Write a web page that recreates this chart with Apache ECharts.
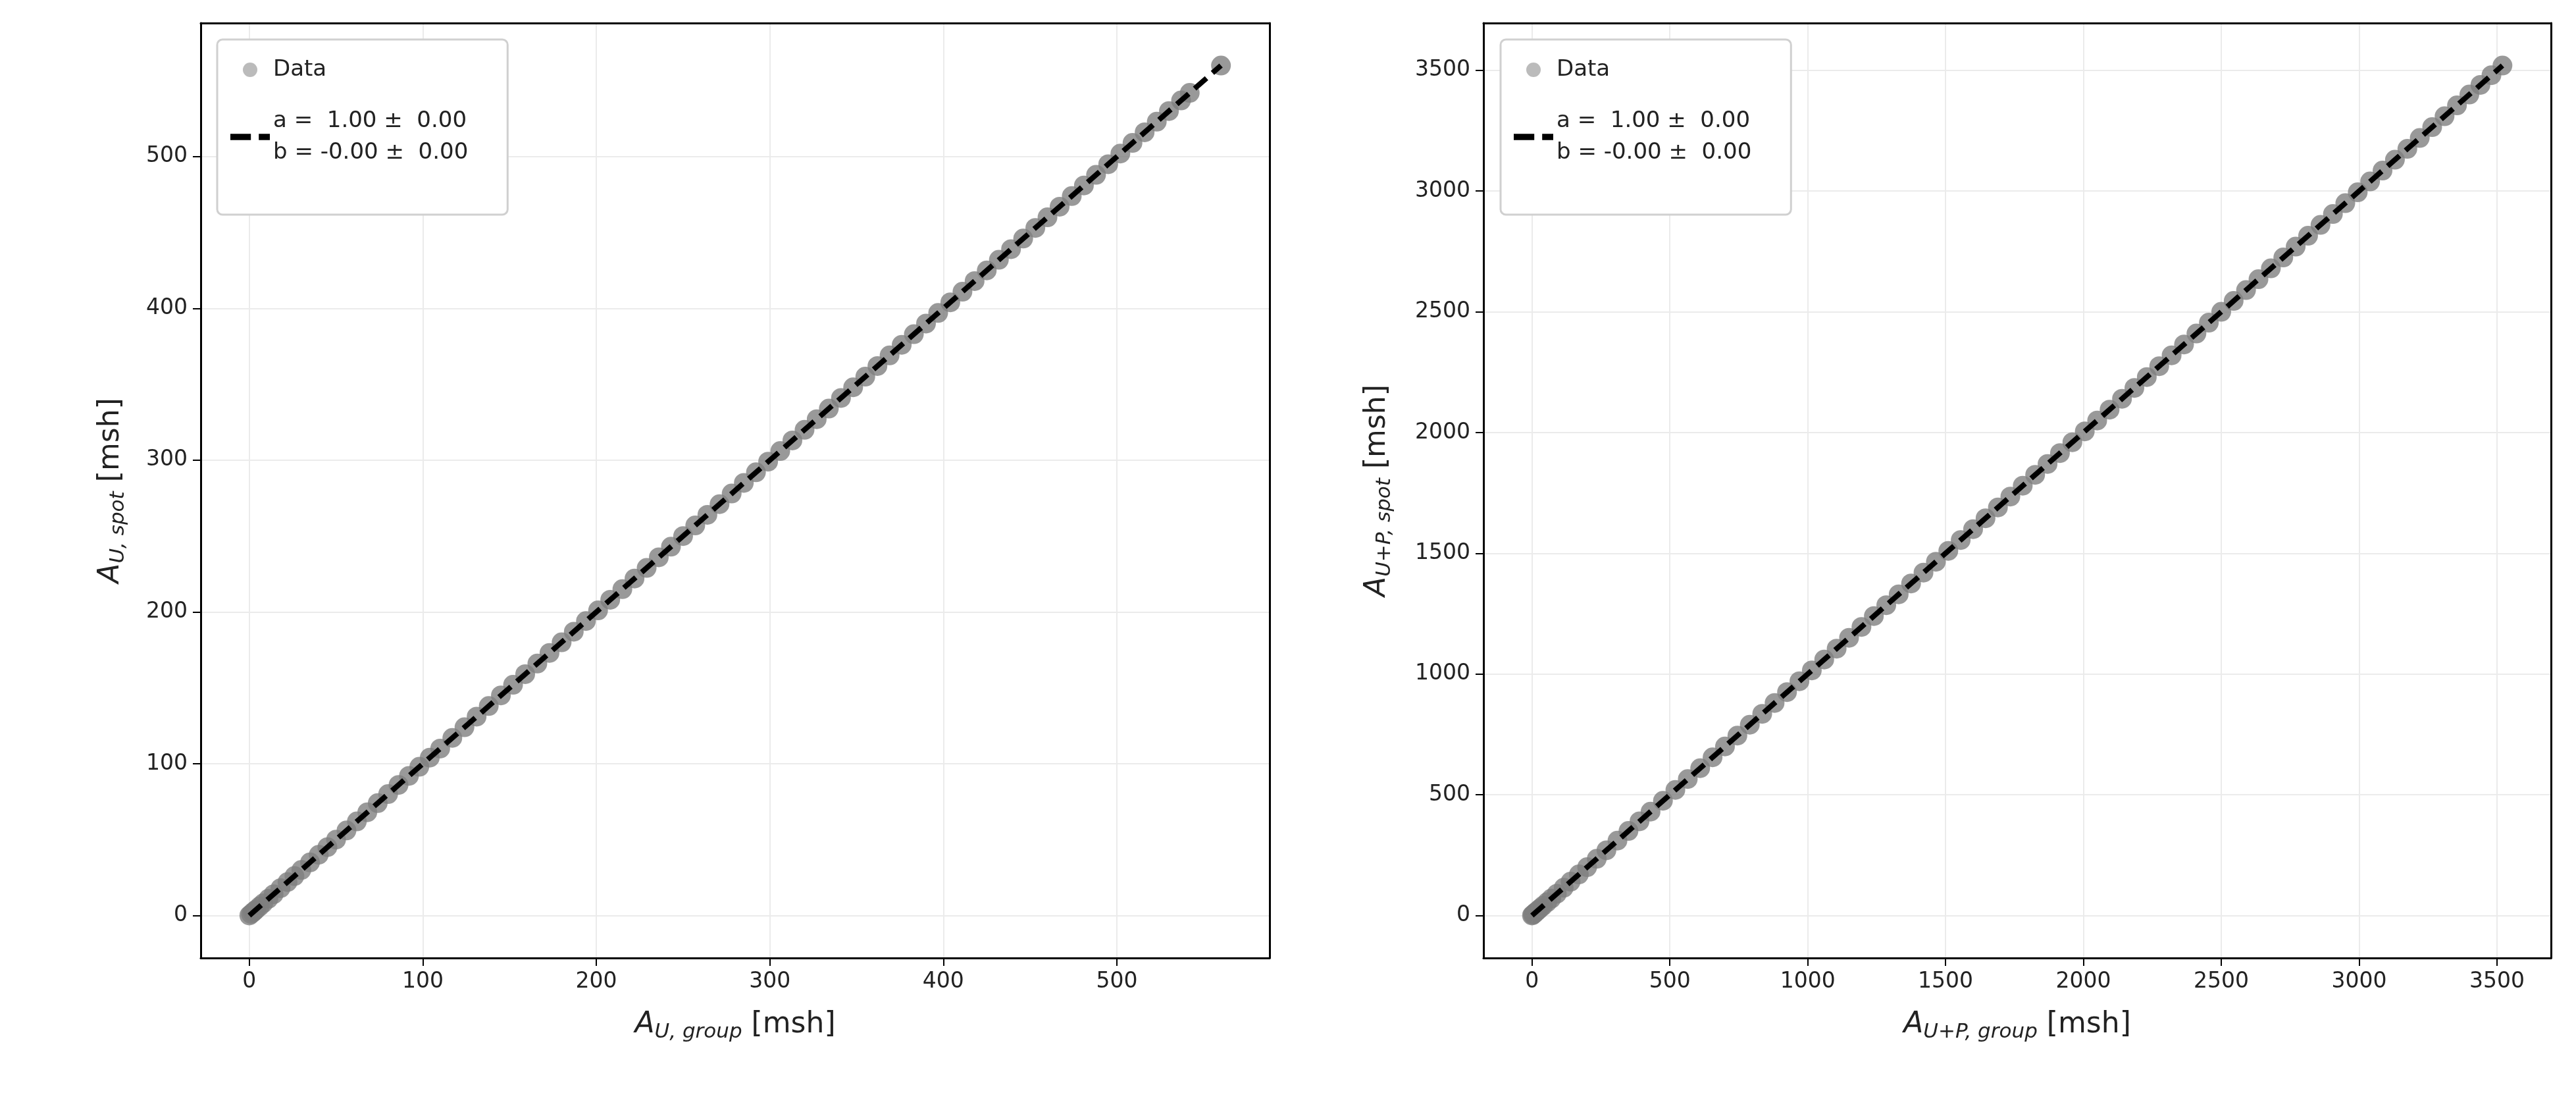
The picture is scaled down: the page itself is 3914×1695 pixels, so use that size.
<!DOCTYPE html>
<html><head><meta charset="utf-8">
<script src="https://cdn.jsdelivr.net/npm/echarts@6/dist/echarts.min.js"></script>
<style>html,body{margin:0;background:#fff}#main{width:3914px;height:1695px}</style>
</head><body><div id="main"></div>
<script>
var chart = echarts.init(document.getElementById('main'));

// values (spot vs group, both along the 1:1 line)
var groupU = [0, 1, 2, 3, 4, 6, 8, 11, 14, 18, 22, 26, 30, 35, 40, 45, 50, 56, 62, 68, 74, 80, 86, 92, 98, 104, 110, 117, 124, 131, 138, 145, 152, 159, 166, 173, 180, 187, 194, 201, 208, 215, 222, 229, 236, 243, 250, 257, 264, 271, 278, 285, 292, 299, 306, 313, 320, 327, 334, 341, 348, 355, 362, 369, 376, 383, 390, 397, 404, 411, 418, 425, 432, 439, 446, 453, 460, 467, 474, 481, 488, 495, 502, 509, 516, 523, 530, 537, 542, 560];
var spotU = groupU.slice();
var groupUP = [0, 3, 6, 10, 15, 22, 30, 40, 55, 70, 90, 115, 140, 170, 200, 235, 270, 310, 350, 390, 430, 475, 520, 565, 610, 655, 700, 745, 790, 835, 880, 925, 970, 1015, 1060, 1105, 1150, 1195, 1240, 1285, 1330, 1375, 1420, 1465, 1510, 1555, 1600, 1645, 1690, 1735, 1780, 1825, 1870, 1915, 1960, 2005, 2050, 2095, 2140, 2185, 2230, 2275, 2320, 2365, 2410, 2455, 2500, 2545, 2590, 2635, 2680, 2725, 2770, 2815, 2860, 2905, 2950, 2995, 3040, 3085, 3130, 3175, 3220, 3265, 3310, 3355, 3400, 3440, 3480, 3520];
var spotUP = groupUP.slice();
var ticksU = [0, 100, 200, 300, 400, 500];
var ticksUP = [0, 500, 1000, 1500, 2000, 2500, 3000, 3500];
var fitA = 1.00, fitB = -0.00;
var fitLabel = 'a =  1.00 \u00b1  0.00\nb = -0.00 \u00b1  0.00';

function pairs(xs, ys) { return xs.map(function (x, i) { return [x, ys[i]]; }); }
function fitLine(xs) {
  var lo = Math.min.apply(null, xs), hi = Math.max.apply(null, xs);
  return [[lo, fitA * lo + fitB], [hi, fitA * hi + fitB]];
}

var font = 'DejaVu Sans';
var rich = {
  a: { fontFamily: font, fontSize: 44, fontStyle: 'italic', color: '#222' },
  s: { fontFamily: font, fontSize: 31, fontStyle: 'italic', color: '#222', padding: [22, 0, 0, 0] },
  t: { fontFamily: font, fontSize: 44, color: '#222' }
};

function baseAxis(idx, min, max, ticks, sub, gap, pos) {
  return {
    gridIndex: idx, type: 'value', min: min, max: max, position: pos,
    name: '{a|A}{s|' + sub + '}{t|\u00a0[msh]}', nameLocation: 'middle', nameGap: gap,
    nameTextStyle: { rich: rich },
    axisLine: { show: true, onZero: false, lineStyle: { color: '#000', width: 3 } },
    axisTick: { show: true, length: 12, customValues: ticks, lineStyle: { color: '#000', width: 2 } },
    axisLabel: { fontFamily: font, fontSize: 33, color: '#222', margin: 20, customValues: ticks,
      formatter: function (v) { return String(v); } },
    splitLine: { show: true, lineStyle: { color: '#ebebeb', width: 2 } }
  };
}
function frameAxis(idx, min, max, pos) {
  return {
    gridIndex: idx, type: 'value', min: min, max: max, position: pos,
    axisLine: { show: true, onZero: false, lineStyle: { color: '#000', width: 3 } },
    axisTick: { show: false }, axisLabel: { show: false }, splitLine: { show: false }
  };
}

var dashIcon = 'path://M0,0h26v8h-26z M36,0h14v8h-14z';
var legendCommon = {
  orient: 'vertical', backgroundColor: '#fff', borderColor: '#d0d0d0', borderWidth: 3,
  borderRadius: 8, padding: [22, 60, 70, 20], itemGap: 30, itemWidth: 60, itemHeight: 22,
  textStyle: { fontFamily: font, fontSize: 34, color: '#222', lineHeight: 48 }
};
function legendData() {
  return [{ name: 'Data', icon: 'circle', itemStyle: { color: '#aaa' } },
          { name: fitLabel, icon: dashIcon, itemStyle: { color: '#000' } }];
}

function scatter(idx, d) {
  return { name: 'Data', type: 'scatter', xAxisIndex: idx * 2, yAxisIndex: idx * 2, data: d,
    symbolSize: 30, itemStyle: { color: '#7f7f7f', opacity: 0.8 }, z: 2 };
}
function line(idx, d) {
  return { name: fitLabel, type: 'line', xAxisIndex: idx * 2, yAxisIndex: idx * 2, data: d,
    symbol: 'none', lineStyle: { color: '#000', width: 8, type: [24, 12] }, z: 3 };
}

chart.setOption({
  animation: false,
  grid: [
    { left: 305, top: 35, width: 1624, height: 1420 },
    { left: 2254, top: 35, width: 1622, height: 1420 }
  ],
  legend: [
    Object.assign({ left: 330, top: 60, data: legendData() }, legendCommon),
    Object.assign({ left: 2280, top: 60, data: legendData() }, legendCommon)
  ],
  xAxis: [baseAxis(0, -28, 588, ticksU, 'U, group', 75, 'bottom'), frameAxis(0, -28, 588, 'top'),
          baseAxis(1, -176, 3696, ticksUP, 'U+P, group', 75, 'bottom'), frameAxis(1, -176, 3696, 'top')],
  yAxis: [baseAxis(0, -28, 588, ticksU, 'U, spot', 110, 'left'), frameAxis(0, -28, 588, 'right'),
          baseAxis(1, -176, 3696, ticksUP, 'U+P, spot', 135, 'left'), frameAxis(1, -176, 3696, 'right')],
  series: [
    scatter(0, pairs(groupU, spotU)), line(0, fitLine(groupU)),
    scatter(1, pairs(groupUP, spotUP)), line(1, fitLine(groupUP))
  ]
});
</script></body></html>
